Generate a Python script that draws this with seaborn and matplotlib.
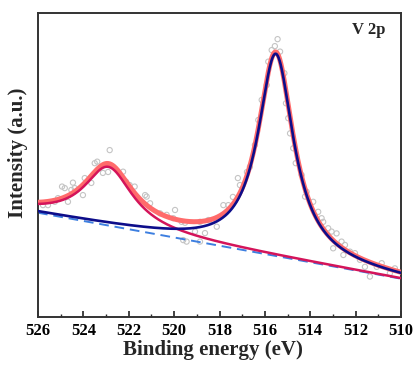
import numpy as np
import pandas as pd
import matplotlib
matplotlib.use("Agg")
import matplotlib.pyplot as plt
from matplotlib.ticker import MultipleLocator
import seaborn as sns

be_points = [525.78, 525.56, 525.26, 525.12, 524.94, 524.82, 524.68, 524.53, 524.46, 524.38,
             524.02, 523.94, 523.65, 523.50, 523.39, 523.14, 522.91, 522.84, 522.25, 522.12,
             521.96, 521.74, 521.28, 521.21, 521.06, 520.62, 520.33, 520.04, 519.96, 519.67,
             519.52, 519.60, 519.45, 519.08, 518.86, 518.86, 518.64, 518.49, 518.34, 518.12,
             517.83, 517.61, 517.41, 517.19, 517.10, 516.79, 516.66, 516.44, 516.29, 516.14,
             515.92, 515.85, 515.70, 515.56, 515.44, 515.33, 515.14, 515.07, 514.97, 514.89,
             514.75, 514.64, 514.38, 514.16, 514.23, 513.87, 513.65, 513.50, 513.43, 513.21,
             513.06, 512.84, 512.99, 512.62, 512.47, 512.54, 512.25, 512.03, 511.81, 511.59,
             511.37, 511.07, 510.85, 510.49, 510.27]
int_points = [36.8, 36.8, 37.9, 39.1, 42.9, 42.4, 37.9, 41.8, 44.2, 42.4,
              40.1, 45.7, 44.1, 50.6, 51.1, 47.4, 47.7, 54.9, 47.8, 44.5,
              43.4, 42.9, 40.1, 39.6, 37.4, 34.1, 33.6, 32.5, 35.2, 31.3,
              31.0, 25.3, 24.8, 28.1, 24.8, 31.3, 27.6, 31.9, 31.9, 29.7,
              36.8, 36.8, 39.5, 45.7, 43.4, 47.7, 49.4, 56.6, 64.8, 71.4,
              76.3, 84.0, 87.8, 89.1, 91.4, 87.3, 80.2, 70.3, 65.4, 60.4,
              55.5, 50.6, 46.7, 41.2, 39.6, 37.9, 34.6, 32.5, 31.3, 29.2,
              28.1, 27.5, 22.6, 24.8, 23.7, 20.4, 21.5, 21.0, 18.8, 16.5,
              13.3, 16.5, 17.7, 14.4, 16.0]

# ---- fit parameters ----
peak_names = ["V 2p3/2", "V 2p1/2"]
peak_centers = [515.52, 522.90]
peak_heights = [66.5, 19.3]
peak_fwhm = [1.90, 2.60]
baseline_be = [526.0, 510.0]
baseline_int = [34.3, 12.6]

x_ticks = [526, 524, 522, 520, 518, 516, 514, 512, 510]

# ---- build model curves ----
grid = np.linspace(baseline_be[0], baseline_be[1], 800)
base = np.interp(grid, baseline_be[::-1], baseline_int[::-1])


def lorentz(x, c, h, w):
    return h / (1.0 + (2.0 * (x - c) / w) ** 2)


comp1 = lorentz(grid, peak_centers[0], peak_heights[0], peak_fwhm[0])
comp2 = lorentz(grid, peak_centers[1], peak_heights[1], peak_fwhm[1])

curves = pd.DataFrame({
    "be": grid,
    "baseline": base,
    "p1": base + comp1,
    "p2": base + comp2,
    "env": base + comp1 + comp2,
})
points = pd.DataFrame({"be": be_points, "int": int_points})

sns.set_theme(style="white")
plt.rcParams["font.family"] = ["Liberation Serif", "DejaVu Serif"]
plt.rcParams["font.weight"] = "bold"

fig = plt.figure(figsize=(4.15, 3.65), dpi=100)
ax = fig.add_axes([38 / 415, 1 - 317 / 365, (401 - 38) / 415, (317 - 13) / 365])

sns.scatterplot(data=points, x="be", y="int", ax=ax, s=14, marker="o",
                facecolor="none", edgecolor="#c4c4c4", linewidth=0.8, zorder=1)
sns.lineplot(data=curves, x="be", y="baseline", ax=ax, color="#3d7fe0", lw=1.4,
             linestyle=(0, (5, 3)), sort=False, zorder=2)
sns.lineplot(data=curves, x="be", y="env", ax=ax, color="#ff6b6b", lw=3.6,
             sort=False, zorder=3)
sns.lineplot(data=curves, x="be", y="p2", ax=ax, color="#d4145a", lw=1.8,
             sort=False, zorder=4)
sns.lineplot(data=curves, x="be", y="p1", ax=ax, color="#0d0d8a", lw=1.9,
             sort=False, zorder=5)

ax.set_xlim(526, 510)
ax.set_ylim(0, 100)
ax.set_xticks(x_ticks)
ax.set_xticklabels([str(t) for t in x_ticks], fontsize=12, fontweight="bold")
ax.xaxis.set_minor_locator(MultipleLocator(1))
ax.set_yticks([])
ax.tick_params(axis="x", which="major", direction="in", length=4, width=1.2,
               bottom=True, top=False, pad=4, colors="#222222")
ax.tick_params(axis="x", which="minor", direction="in", length=2.5, width=1.0,
               bottom=True, top=False)
for t in ax.get_xticklabels():
    t.set_color("black")

for sp in ax.spines.values():
    sp.set_visible(True)
    sp.set_linewidth(1.4)
    sp.set_color("#333333")

ax.set_xlabel("Binding energy (eV)", fontsize=15, fontweight="bold")
ax.xaxis.set_label_coords(0.482, -0.075)
ax.set_ylabel("Intensity (a.u.)", fontsize=15, fontweight="bold")
ax.yaxis.set_label_coords(-0.028, 0.54)
ax.text(0.958, 0.945, "V 2p", transform=ax.transAxes, ha="right", va="center",
        fontsize=12, fontweight="bold")

fig.savefig("out.png", dpi=100)
